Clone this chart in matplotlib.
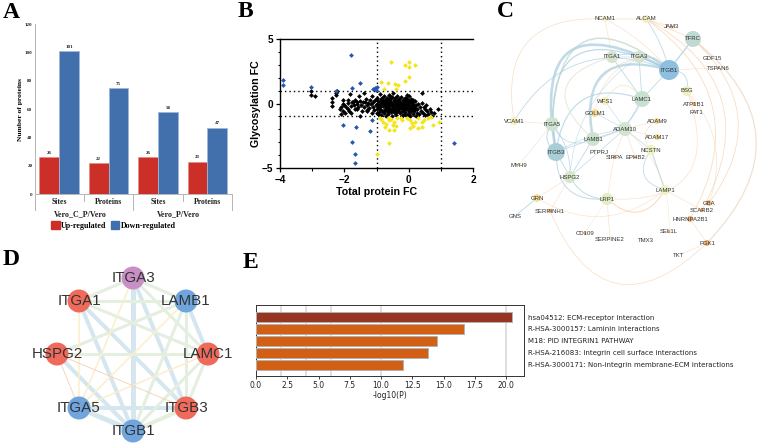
import matplotlib
matplotlib.use("Agg")
import matplotlib.pyplot as plt
from matplotlib.patches import FancyArrowPatch, Circle, Patch
from matplotlib.ticker import MultipleLocator

W, H = 764, 444
SANS = "Liberation Sans"
SERIF = "Liberation Serif"

# Panel A
a_sites = ["Sites", "Proteins", "Sites", "Proteins"]
a_groups = ["Vero_C_P/Vero", "Vero_P/Vero"]
a_up = [26, 22, 26, 23]
a_down = [101, 75, 58, 47]
a_legend = ["Up-regulated", "Down-regulated"]

# Panel B
b_blue = [(-3.9,1.85),(-3.9,1.4),(-3.05,1.25),(-2.25,1.0),(-1.78,3.75),(-1.75,1.2),(-1.52,1.6),
          (-1.12,1.15),(-1.05,1.2),(-1.0,1.3),(-1.03,1.05),(-2.05,-1.65),(-1.75,-2.95),(-1.65,-1.85),
          (-1.67,-3.9),(-1.68,-4.65),(-1.2,-2.1),(-1.15,-1.3),(1.4,-3.1)]
b_yellow = [(-0.55,3.25),(0,3.25),(-0.1,3.0),(0.2,3.0),(0,2.8),(0,2.05),(-0.12,1.75),(-0.85,1.7),
            (-0.65,1.6),(-0.42,1.5),(-0.33,1.4),(-0.38,1.1),(-0.77,1.1),(-1.0,-3.95),(-0.6,-3.1),
            (0.95,-1.4),(0.75,-1.65),(0.7,-1.05),(0.47,-1.3),(0.42,-1.45),(0.4,-1.8),(0.3,-1.9),
            (0.15,-1.75),(0.03,-1.9),(0.2,-1.4),(0.1,-1.5),(0.05,-1.25),(-0.05,-1.1),(-0.2,-1.3),
            (-0.35,-1.1),(-0.4,-1.75),(-0.45,-1.4),(-0.45,-2.05),(-0.6,-2.05),(-0.55,-1.2),(-0.65,-1.1),
            (-0.7,-1.6),(-0.75,-1.8),(-0.85,-1.2),(-0.9,-1.1),(-0.8,-1.4),(-0.5,-1.65),(-0.62,-1.3),
            (0.3,-1.1),(-0.25,-1.1),(0.6,-1.1)]
b_black = [(-3.05,1.0),(-3.05,0.65),(-2.9,0.58),(-2.25,0.8),(-2.27,0.65),(-2.38,0.45),(-2.38,0.15),(-2.38,-0.2),
 (-2.22,0.95),(-2.05,0.25),(-2.03,0.0),(-2.0,-0.15),(-2.1,-0.25),(-2.15,-0.4),(-2.1,-0.8),(-2.05,-0.55),(-1.98,-0.75),
 (-1.95,-0.3),(-1.9,0.05),(-1.9,-0.45),(-1.88,0.3),(-1.83,0.7),(-1.8,-0.2),(-1.78,-0.72),(-1.75,0.15),(-1.72,0.1),
 (-1.7,-0.1),(-1.68,0.3),(-1.66,-0.4),(-1.62,0.0),(-1.6,0.15),(-1.58,-0.25),(-1.55,0.55),(-1.52,-1.0),(-1.5,0.2),
 (-1.48,-0.1),(-1.45,-0.55),(-1.42,0.1),(-1.4,0.8),(-1.38,-0.3),(-1.35,0.15),(-1.32,0.35),(-1.3,-0.15),(-1.28,-0.6),
 (-1.25,0.05),(-1.22,-0.35),(-1.2,0.3),(-1.18,-0.05),(-1.15,0.55),(-1.12,-0.25),(-1.1,0.1),(-1.08,-0.5),(-1.05,0.3),
 (-1.02,-0.1),(-1.0,0.0),(-0.98,-0.4),(-0.97,0.45),(-0.95,0.2),(-0.93,-0.15),(-0.92,-0.65),(-0.9,0.7),(-0.9,0.1),
 (-0.88,-0.3),(-0.87,-0.9),(-0.85,0.35),(-0.84,-0.05),(-0.83,-0.55),(-0.8,0.2),(-0.8,-0.2),(-0.78,-0.75),(-0.78,0.55),
 (-0.76,0.0),(-0.75,-0.4),(-0.73,0.3),(-0.72,-0.95),(-0.7,-0.1),(-0.7,0.1),(-0.68,0.45),(-0.67,-0.55),(-0.65,-0.25),
 (-0.65,0.2),(-0.63,-0.8),(-0.62,0.65),(-0.6,0.0),(-0.6,-0.4),(-0.58,0.35),(-0.57,-0.15),(-0.56,-0.65),(-0.55,0.15),
 (-0.53,-0.95),(-0.52,0.5),(-0.5,-0.3),(-0.5,0.05),(-0.48,0.8),(-0.47,-0.5),(-0.46,0.25),(-0.45,-0.1),(-0.44,-0.75),
 (-0.42,0.4),(-0.4,0.0),(-0.4,-0.35),(-0.38,-0.9),(-0.37,0.2),(-0.36,0.6),(-0.35,-0.2),(-0.34,-0.6),(-0.32,0.05),
 (-0.3,0.35),(-0.3,-0.45),(-0.28,-0.75),(-0.27,-0.1),(-0.26,0.15),(-0.25,0.5),(-0.24,-0.3),(-0.22,-0.95),(-0.2,0.0),
 (-0.2,-0.55),(-0.18,0.3),(-0.17,-0.2),(-0.16,0.1),(-0.15,-0.8),(-0.14,-0.4),(-0.12,0.45),(-0.1,-0.05),(-0.1,-0.65),
 (-0.08,0.2),(-0.07,-0.3),(-0.06,-0.9),(-0.05,0.0),(-0.04,0.65),(-0.03,-0.5),(-0.02,0.3),(0.0,-0.15),(0.0,-0.75),
 (0.02,0.55),(0.03,0.1),(0.04,-0.35),(0.05,-0.95),(0.07,0.35),(0.08,-0.6),(0.09,-0.1),(0.1,0.15),(0.12,-0.4),
 (0.13,-0.8),(0.15,0.0),(0.16,-0.25),(0.18,-0.55),(0.2,0.2),(0.22,-0.95),(0.23,-0.15),(0.25,-0.7),(0.27,-0.4),
 (0.3,0.0),(0.32,-0.85),(0.35,-0.25),(0.38,-0.55),(0.42,0.05),(0.43,0.85),(0.45,-0.7),(0.47,-0.3),(0.5,-0.45),
 (0.52,-0.9),(0.55,-0.15),(0.58,-0.6),(0.6,-0.8),(0.65,-0.4),(0.68,-0.65),(0.72,-0.95),(0.78,-0.75),(0.9,-0.4),
 (-0.95,-0.85),(-0.6,-0.6),(-0.75,-0.05),(-0.9,-0.45),(-0.55,-0.4),(-0.45,0.1),(-0.35,0.0),(-0.25,-0.15),(-0.15,0.05),
 (-0.05,-0.25),(-0.85,0.2),(-0.65,0.05),(-0.72,-0.3),(-0.5,-0.6),(-0.4,-0.65),(-0.3,-0.25),(-0.2,-0.35),(-0.1,-0.45),
 (0.0,0.1),(0.1,-0.3),(0.2,-0.4),(-1.0,-0.7),(-1.15,-0.75),(-1.3,-0.5),(-1.6,-0.45),(-1.85,-0.6),(-0.82,0.42),(-0.58,0.55),
 (-0.33,0.3),(-0.08,0.4),(0.15,0.3),(-0.95,-0.25),(-0.78,-0.55),(-0.52,-0.15),(-0.28,0.1),(-0.6,0.25),(-0.42,-0.5)]

# Panel C
c_nodes = [("NCAM1",605,19,3,"#f6f4c8"),("ALCAM",646,19,4,"#f3efbf"),("JAM3",672,27,1.5,"#f0a868"),
 ("TFRC",693,39,8,"#c0d9d3"),("GDF15",712,58,0,"#f0a868"),("TSPAN6",718,68,1,"#ee9a60"),("ITGB1",669,70,10,"#8fbfde"),
 ("ITGA1",612,57,6,"#d5e3cf"),("ITGA3",639,57,6,"#d5e3cf"),("BSG",687,91,5,"#eef0c4"),("LAMC1",642,99,8,"#c9dfd2"),
 ("WFS1",605,101,4,"#f6f0b8"),("ATP1B1",694,104,2,"#f0b070"),("FAT1",696,112,1,"#f0b070"),("GOLM1",595,113,4,"#f7dc98"),
 ("ADAM9",657,121,3,"#f7d890"),("VCAM1",514,121,4,"#f5f2bd"),("ITGA5",552,124,7,"#d0e2d2"),("ADAM10",625,129,7,"#d3e4d1"),
 ("ADAM17",657,137,3,"#f7dc98"),("LAMB1",593,139,7,"#cfe2d0"),("NCSTN",651,150,5,"#eff2c2"),("ITGB3",556,152,9,"#a8cfd6"),
 ("PTPRJ",599,152,0,"#f0b070"),("SIRPA",614,157,1.5,"#f0a060"),("EPHB2",635,157,1.5,"#f0a060"),("MYH9",519,165,1,"#f0b070"),
 ("HSPG2",570,177,6,"#d9e6ca"),("LAMP1",665,190,5,"#eef2c4"),("GRN",537,198,4,"#f7e098"),("LRP1",607,199,6,"#e3edc4"),
 ("GBA",709,203,3,"#f3c888"),("SCARB2",702,210,2,"#f0b070"),("SERPINH1",550,211,2,"#f0a868"),("HNRNPA2B1",690,219,3,"#f0b070"),
 ("GNS",515,216,0,"#f0b070"),("CD109",585,233,1.5,"#f0a868"),("SEL1L",669,231,1.5,"#f0a868"),("SERPINE2",610,239,0,"#f0b070"),
 ("TMX3",646,240,0,"#f0b070"),("PGK1",707,243,3,"#f0b070"),("TKT",679,255,0,"#f0b070")]
BL, OR = "#a4cbdf", "#f6cfaa"
c_edges = [("ITGB1","ITGB3",1.05,BL,1.9),("ITGB1","ITGB3",0.95,BL,0.9),("ITGB1","LAMB1",0.8,BL,1.7),("ITGB1","ITGA5",0.95,"#bcd6c8",1.1),
 ("ITGB1","ITGA1",0.3,BL,0.7),("ITGB1","ITGA3",0.3,BL,0.7),("TFRC","ITGB1",0.0,BL,1.0),("VCAM1","ITGB1",-0.42,BL,0.6),
 ("ITGB1","LAMC1",0.0,BL,0.6),("ITGA1","ITGA3",0.0,BL,0.5),("LAMC1","ITGA3",0.0,BL,0.6),("LAMC1","ITGA1",0.0,BL,0.6),
 ("ADAM10","LAMC1",0.0,BL,0.6),("ADAM10","LAMB1",0.0,BL,0.6),("ADAM10","ITGB3",0.1,BL,0.5),("ADAM10","WFS1",0.0,BL,0.4),
 ("ADAM10","HSPG2",0.0,BL,0.5),("ADAM10","GOLM1",0.0,BL,0.4),("ITGB1","BSG",-0.6,BL,0.6),("ITGB3","LAMC1",-0.6,BL,0.8),
 ("ADAM10","NCSTN",0.0,BL,0.5),("NCSTN","LAMP1",0.0,BL,0.8),("NCSTN","LAMP1",0.7,BL,0.6),("LRP1","ITGB3",-0.55,BL,0.7),
 ("LRP1","HSPG2",-0.3,BL,0.7),("LAMB1","ITGB3",0.0,BL,0.6),("LAMB1","HSPG2",0.0,BL,0.6),("GNS","GRN",0.0,BL,0.7),
 ("HSPG2","ITGB3",0.0,BL,0.6),("HSPG2","ITGA5",0.2,BL,0.6),("ITGA5","ITGB3",0.5,BL,0.7),("ITGA5","LAMB1",0.5,BL,0.5),
 ("ITGA1","LAMB1",0.9,"#d9e2c8",0.7),("ITGA3","LAMB1",0.5,"#cfe0d6",0.6),("LAMC1","WFS1",0.8,"#e8e6c0",0.6),
 ("NCAM1","VCAM1",0.62,OR,0.5),("NCAM1","ALCAM",0.0,OR,0.5),("ALCAM","TFRC",0.0,OR,0.5),("ALCAM","JAM3",0.0,OR,0.4),
 ("ALCAM","ITGB1",-0.1,BL,0.6),("NCAM1","ITGB1",-0.1,OR,0.4),("NCAM1","ITGA1",0.0,OR,0.4),
 ("TFRC","PGK1",-0.55,"#e8d5c0",0.9),("TFRC","GBA",-0.45,OR,0.6),("ALCAM","HNRNPA2B1",-0.45,OR,0.6),("ALCAM","SCARB2",-0.5,OR,0.6),
 ("SERPINH1","PGK1",0.72,OR,0.5),("LRP1","LAMP1",0.6,"#f5bf90",0.6),("LRP1","BSG",0.75,"#f6d6b4",0.5),("GRN","LAMP1",0.35,OR,0.4),
 ("SIRPA","LRP1",0.0,OR,0.4),("CD109","LRP1",0.0,"#e4ecc8",0.4),("SERPINE2","LRP1",0.0,OR,0.4),("LAMP1","SCARB2",0.0,OR,0.4),
 ("PGK1","TKT",0.0,OR,0.4),("HNRNPA2B1","PGK1",0.0,OR,0.4),("GRN","HSPG2",0.0,OR,0.4),("MYH9","ITGA5",0.0,OR,0.35),
 ("VCAM1","ITGA5",0.0,OR,0.4),("BSG","ATP1B1",0.0,OR,0.5),("BSG","GBA",-0.3,OR,0.4),("TFRC","GDF15",0.0,OR,0.4),
 ("ITGB1","TSPAN6",0.0,OR,0.35),("SERPINH1","HSPG2",0.0,OR,0.35),("ITGA3","GOLM1",0.3,OR,0.35),("ADAM10","ADAM9",0.0,OR,0.4),
 ("ADAM10","ADAM17",0.0,OR,0.4),("NCSTN","ADAM9",-0.6,OR,0.4),("EPHB2","ADAM10",0.0,OR,0.4),("SIRPA","ADAM10",0.0,OR,0.4),
 ("LAMB1","LAMC1",0.3,BL,0.5),("ITGA3","HSPG2",0.25,BL,0.4),("SEL1L","ADAM10",0.25,OR,0.3)]

# Panel D
d_nodes = [("ITGA3",133,278,"#c78fc3"),("ITGA1",79,301,"#ef6a5a"),("LAMB1",186,301,"#6fa5dc"),("HSPG2",57,354,"#ef6a5a"),
 ("LAMC1",208,354,"#ef6a5a"),("ITGA5",79,408,"#6fa5dc"),("ITGB3",186,408,"#ef6a5a"),("ITGB1",133,431,"#6fa5dc")]
DB, DG, DY, DO = "#d5e6ef", "#e4efe0", "#fdeecb", "#f8cfb0"
d_edges = [("ITGA3","ITGB1",DB,3.6),("ITGA1","ITGB1",DB,2.9),("ITGA3","ITGB3",DB,2.9),("LAMB1","LAMC1",DB,2.9),("ITGA1","ITGB3",DB,2.9),
 ("HSPG2","ITGB1",DB,2.9),("ITGA5","ITGB1",DB,3.6),("ITGA5","ITGB3",DB,2.9),("ITGB1","ITGB3",DG,2.9),("ITGA3","LAMB1",DG,2.2),
 ("ITGA3","ITGA1",DG,2.2),("ITGA1","LAMB1",DG,2.2),("ITGA1","LAMC1",DG,2.2),("ITGA3","LAMC1",DG,2.2),("HSPG2","LAMB1",DG,2.2),
 ("HSPG2","LAMC1",DG,2.2),("LAMB1","ITGB3",DG,2.2),("LAMC1","ITGB3",DG,2.2),("LAMC1","ITGB1",DG,2.2),("LAMB1","ITGB1",DG,2.2),
 ("ITGA1","ITGA5",DY,1.1),("ITGA3","ITGA5",DY,1.1),("LAMB1","ITGA5",DY,1.1),("LAMC1","ITGA5",DY,1.1),
 ("HSPG2","ITGA5",DO,0.6),("HSPG2","ITGB3",DO,0.6)]

# Panel E
e_labels = ["hsa04512: ECM-receptor interaction","R-HSA-3000157: Laminin interactions","M18: PID INTEGRIN1 PATHWAY",
            "R-HSA-216083: Integrin cell surface interactions","R-HSA-3000171: Non-integrin membrane-ECM interactions"]
e_values = [20.45, 16.65, 14.45, 13.75, 11.75]
e_colors = ["#953522", "#d25f14", "#d25f14", "#d25f14", "#d25f14"]
e_grid = [2, 4, 6, 10, 20]

letters = [("A",3,18),("B",238,17),("C",497,17),("D",3,265),("E",243,268)]


def axes_px(x0, y0, x1, y1):
    return fig.add_axes([x0 / W, 1 - y1 / H, (x1 - x0) / W, (y1 - y0) / H])


fig = plt.figure(figsize=(W / 100, H / 100), dpi=100, facecolor="white")

# ---------- A
ax = axes_px(34.5, 24.5, 232, 194)
xs = range(len(a_sites))
bw = 0.40
ax.bar([x - bw / 2 for x in xs], a_up, bw, color="#cc2f27", edgecolor="#e08a82", linewidth=0.4)
ax.bar([x + bw / 2 for x in xs], a_down, bw, color="#4270ad", edgecolor="#9fb9d9", linewidth=0.6)
for x, u, d in zip(xs, a_up, a_down):
    ax.text(x - bw / 2, u + 1.5, str(u), ha="center", va="bottom", fontsize=3.6, family=SERIF, weight="bold", color="#222")
    ax.text(x + bw / 2, d + 1.5, str(d), ha="center", va="bottom", fontsize=3.6, family=SERIF, weight="bold", color="#222")
ax.set_xlim(-0.5, 3.5)
ax.set_ylim(0, 120)
ax.set_yticks(range(0, 121, 20))
ax.set_xticks([])
ax.tick_params(axis="y", labelsize=3.6, length=0, pad=1.5, colors="#222")
for t in ax.get_yticklabels():
    t.set_family(SERIF); t.set_weight("bold")
for s in ("top", "right"):
    ax.spines[s].set_visible(False)
for s in ("left", "bottom"):
    ax.spines[s].set_color("#b5b5b5"); ax.spines[s].set_linewidth(0.7)
ax.set_ylabel("Number of proteins", fontsize=5.4, family=SERIF, weight="bold", labelpad=1)
tr = ax.get_xaxis_transform()
for x, low in [(-0.5, -0.095), (0.5, -0.04), (1.5, -0.095), (2.5, -0.04), (3.5, -0.095)]:
    ax.plot([x, x], [0, low], transform=tr, color="#b5b5b5", lw=0.7, clip_on=False)
for x, lab in zip(xs, a_sites):
    ax.text(x, -0.05, lab, transform=tr, ha="center", va="center", fontsize=5.6, family=SERIF, weight="bold", color="#222")
for x, lab in zip([0.5, 2.5], a_groups):
    ax.text(x - 0.08, -0.12, lab, transform=tr, ha="center", va="center", fontsize=5.8, family=SERIF, weight="bold", color="#222")
ax.legend(handles=[Patch(color="#cc2f27", label=a_legend[0]), Patch(color="#4270ad", label=a_legend[1])],
          loc="center", bbox_to_anchor=(0.40, -0.185), ncol=2, frameon=False, columnspacing=0.5, handlelength=1.1,
          handleheight=1.1, handletextpad=0.2, prop={"family": SERIF, "weight": "bold", "size": 5.75})

# ---------- B
ax = axes_px(280, 39, 473, 168)
for pts, col in [(b_black, "black"), (b_yellow, "#f4e41c"), (b_blue, "#2457b0")]:
    ax.scatter([p[0] for p in pts], [p[1] for p in pts], marker="D", s=6, color=col, linewidths=0, zorder=3, clip_on=False)
ax.set_xlim(-4, 2)
ax.set_ylim(-5, 5)
for v in (-1, 1):
    ax.axhline(v, color="black", ls=(0, (1, 2.2)), lw=1.0, zorder=2)
    ax.axvline(v, color="black", ls=(0, (1, 2.2)), lw=1.0, zorder=2)
ax.set_xticks([-4, -2, 0, 2])
ax.set_yticks([-5, 0, 5])
ax.xaxis.set_minor_locator(MultipleLocator(1))
ax.yaxis.set_minor_locator(MultipleLocator(1))
ax.tick_params(which="major", length=3.2, width=0.9, labelsize=7.2, pad=1.5)
ax.tick_params(which="minor", length=1.8, width=0.8)
for t in ax.get_xticklabels() + ax.get_yticklabels():
    t.set_family(SANS); t.set_weight("bold")
ax.spines["right"].set_visible(False)
for s in ("left", "bottom", "top"):
    ax.spines[s].set_linewidth(1.0)
ax.set_xlabel("Total protein FC", fontsize=7.7, family=SANS, weight="bold", labelpad=2)
ax.set_ylabel("Glycosylation FC", fontsize=7.7, family=SANS, weight="bold", labelpad=1)

# ---------- E
ax = axes_px(256, 305, 524, 376)
ypos = list(range(len(e_values)))
ax.barh(ypos, e_values, 0.85, color=e_colors, edgecolor="#b3b3b3", linewidth=0.7, zorder=3)
for g in e_grid:
    ax.axvline(g, color="#d9d9d9", lw=1.2, zorder=1)
ax.set_xlim(0, 21.43)
ax.set_ylim(4.95, -1.01)
ax.set_xticks([0, 2.5, 5, 7.5, 10, 12.5, 15, 17.5, 20])
ax.set_xticklabels(["0.0", "2.5", "5.0", "7.5", "10.0", "12.5", "15.0", "17.5", "20.0"])
ax.yaxis.tick_right()
ax.set_yticks(ypos)
ax.set_yticklabels(e_labels)
ax.tick_params(axis="y", length=0, pad=3, labelsize=5.05, colors="#222")
ax.tick_params(axis="x", length=2, width=0.6, pad=1.5, labelsize=5.5, colors="#222")
for s in ax.spines.values():
    s.set_linewidth(0.7); s.set_color("#333")
ax.set_xlabel("-log10(P)", fontsize=5.5, labelpad=1, color="#222")

# ---------- overlay: networks and letters
ov = fig.add_axes([0, 0, 1, 1], facecolor="none")
ov.set_xlim(0, W)
ov.set_ylim(H, 0)
ov.axis("off")

pos_c = {n[0]: (n[1], n[2]) for n in c_nodes}
for a, b, rad, col, lw in c_edges:
    ov.add_patch(FancyArrowPatch(pos_c[a], pos_c[b], arrowstyle="-", connectionstyle=f"arc3,rad={rad}", color=col,
                                 lw=lw, alpha=0.7, shrinkA=0, shrinkB=0, zorder=1, mutation_scale=1))
for name, x, y, r, col in c_nodes:
    if r:
        ov.add_patch(Circle((x, y), r, facecolor=col, edgecolor="none", zorder=2))
    ov.text(x, y, name, ha="center", va="center", fontsize=4.3, family=SANS, color="#333", zorder=3)

pos_d = {n[0]: (n[1], n[2]) for n in d_nodes}
for a, b, col, lw in d_edges:
    ov.plot([pos_d[a][0], pos_d[b][0]], [pos_d[a][1], pos_d[b][1]], color=col, lw=lw, zorder=1, solid_capstyle="butt")
for name, x, y, col in d_nodes:
    ov.add_patch(Circle((x, y), 11.5, facecolor=col, edgecolor="none", zorder=2))
    ov.text(x, y, name, ha="center", va="center", fontsize=10.9, family=SANS, color="#333", zorder=3)

for s, x, y in letters:
    ov.text(x, y, s, ha="left", va="baseline", fontsize=17, family=SERIF, weight="bold", color="black", zorder=5)

fig.savefig("out.png", dpi=100)
